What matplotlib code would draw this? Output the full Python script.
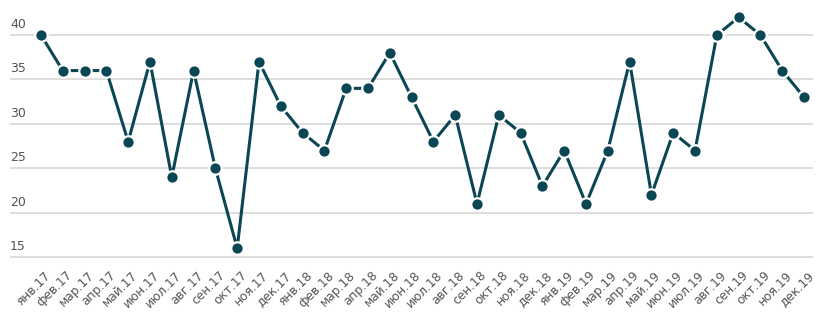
import numpy as np
import matplotlib.pyplot as plt
from matplotlib.transforms import blended_transform_factory, offset_copy, ScaledTranslation

months = ["янв", "фев", "мар", "апр", "май", "июн",
          "июл", "авг", "сен", "окт", "ноя", "дек"]
years = ["17", "18", "19"]
labels = [m + "." + y for y in years for m in months]

values = [40, 36, 36, 36, 28, 37, 24, 36, 25, 16, 37, 32,
          29, 27, 34, 34, 38, 33, 28, 31, 21, 31, 29, 23,
          27, 21, 27, 37, 22, 29, 27, 40, 42, 40, 36, 33]
yticks = [15, 20, 25, 30, 35, 40]

line_color = "#0b4654"

fig = plt.figure(figsize=(8.27, 3.25), dpi=100)
ax = fig.add_axes([10 / 827, 1 - 266 / 325, 803 / 827, (266 - 8.4) / 325])

x = np.arange(len(values))
ax.plot(x, values, color=line_color, lw=2.2, marker="o", ms=9,
        markerfacecolor=line_color, markeredgecolor="white",
        markeredgewidth=1.6, zorder=3, solid_capstyle="butt")

ax.set_xlim(-1.42, 35.41)
ax.set_ylim(14, 43)

for y in yticks:
    ax.axhline(y, color="#dadada", lw=1.3, zorder=1)

trans = blended_transform_factory(ax.transAxes, ax.transData)
trans = offset_copy(trans, fig=fig, x=0, y=3, units="points")
for y in yticks:
    ax.text(0.0, y, str(y), transform=trans, ha="left", va="bottom",
            fontsize=9, color="#555555")

ax.set_yticks([])
ax.set_xticks(x)
ax.set_xticklabels(labels, rotation=45, ha="right", rotation_mode="anchor",
                   fontsize=8.8, color="#555555")
ax.tick_params(axis="x", length=0, pad=2)
shift = ScaledTranslation(3 / 100, 0, fig.dpi_scale_trans)
for lbl in ax.get_xticklabels():
    lbl.set_transform(lbl.get_transform() + shift)

for s in ax.spines.values():
    s.set_visible(False)

plt.savefig("out.png", dpi=100)
